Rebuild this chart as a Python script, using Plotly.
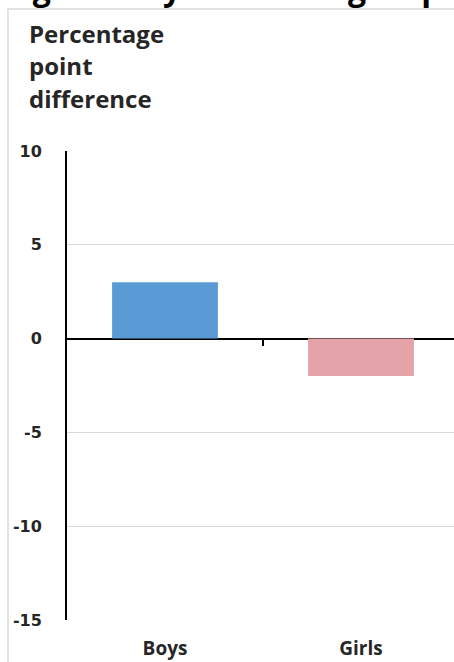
import plotly.graph_objects as go

categories = ["Boys", "Girls"]
values = [3.0, -2.0]
bar_colors = ["#5B9BD5", "#E4A2A9"]
y_ticks = [10, 5, 0, -5, -10, -15]
title_text = "high family affluence group"
axis_title_lines = ["Percentage", "point", "difference"]

W, H = 454, 662
ML, MT, MB = 67, 151, 42
plot_w = W - ML
plot_h = H - MT - MB

def px_x(px):
    return (px - ML) / plot_w

def px_y(py):
    return (H - MB - py) / plot_h

fig = go.Figure()
fig.add_trace(go.Bar(
    x=categories, y=values, marker=dict(color=bar_colors, line=dict(width=0)),
    width=0.54, showlegend=False, hoverinfo="skip",
))
# invisible helper trace so the zero-axis (tick between categories) is rendered
fig.add_trace(go.Scatter(x=categories, y=[None, None], xaxis="x2", yaxis="y",
                         mode="markers", showlegend=False, hoverinfo="skip"))

cat_span = plot_w / 196.0
x_range = [-0.5, -0.5 + cat_span]

fig.update_layout(
    width=W, height=H,
    margin=dict(l=ML, r=0, t=MT, b=MB, pad=0),
    plot_bgcolor="white", paper_bgcolor="white",
    xaxis=dict(
        type="category", range=x_range, showgrid=False, zeroline=False,
        showline=False, ticks="", ticklabelstandoff=15,
        tickfont=dict(family="Open Sans", size=19, color="#262626", weight="bold"),
    ),
    xaxis2=dict(
        type="linear", overlaying="x", anchor="free", position=0.6,
        range=x_range, showgrid=False, zeroline=False, showline=False,
        tickvals=[0.5], ticks="outside", ticklen=6, tickwidth=2, tickcolor="black",
        showticklabels=False,
    ),
    yaxis=dict(
        range=[-15, 10], tickvals=y_ticks, ticktext=[str(v) for v in y_ticks],
        showgrid=True, gridcolor="#D9D9D9", gridwidth=1,
        zeroline=True, zerolinecolor="black", zerolinewidth=2,
        showline=True, linecolor="black", linewidth=2,
        ticks="", ticklabelstandoff=20,
        tickfont=dict(family="DejaVu Sans", size=16, color="#262626", weight="bold"),
    ),
    bargap=0.46,
    shapes=[dict(type="rect", xref="paper", yref="paper",
                 x0=px_x(8), x1=px_x(W + 20), y0=px_y(H + 20), y1=px_y(9),
                 line=dict(color="#D9D9D9", width=1.5), fillcolor="rgba(0,0,0,0)",
                 layer="below")],
)

annotations = [dict(
    text=title_text, xref="paper", yref="paper", x=px_x(0), y=px_y(-13),
    xanchor="left", yanchor="middle", showarrow=False,
    font=dict(family="Open Sans", size=32, color="black", weight="bold"),
)]
for line, base in zip(axis_title_lines, [42.5, 75, 107.5]):
    annotations.append(dict(
        text=line, xref="paper", yref="paper", x=px_x(27), y=px_y(base - 9),
        xanchor="left", yanchor="middle", showarrow=False,
        font=dict(family="Open Sans", size=24, color="#262626", weight="bold"),
    ))
fig.update_layout(annotations=annotations)

fig.write_html(
    "out.html",
    config={"displayModeBar": False},
    post_script="document.body.style.margin='0';document.body.style.overflow='hidden';",
)
